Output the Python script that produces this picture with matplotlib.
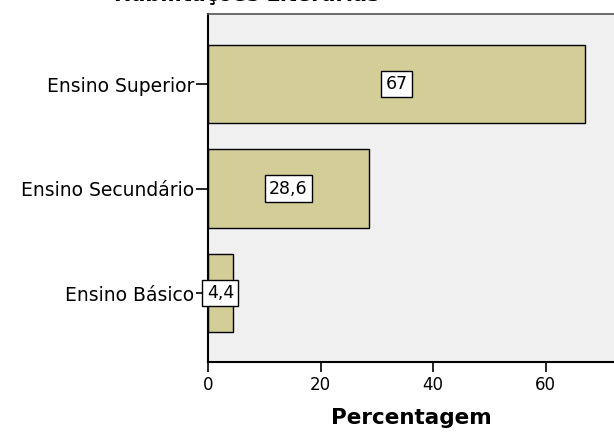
import matplotlib.pyplot as plt

# Habilitações literárias (percentagem)
categorias = ['Ensino Superior', 'Ensino Secundário', 'Ensino Básico']
percentagens = [67, 28.6, 4.4]
xticks = [0, 20, 40, 60]

plt.rcParams['font.family'] = ['DejaVu Sans']

fig = plt.figure(figsize=(6.14, 4.44), dpi=100)
ax = fig.add_axes([208 / 614, 82 / 444, 406 / 614, 348 / 444])
ax.set_facecolor('#f0f0f0')

pos = list(range(len(categorias)))
ax.barh(pos, percentagens, height=0.75, color='#d3ce97',
        edgecolor='black', linewidth=1.0, zorder=2)

for y, v in zip(pos, percentagens):
    txt = f'{v:g}'.replace('.', ',')
    ax.text(v / 2, y, txt, ha='center', va='center', fontsize=12.5, zorder=3,
            bbox=dict(boxstyle='square,pad=0.25', facecolor='white',
                      edgecolor='black', linewidth=1.0))

ax.set_yticks(pos)
ax.set_yticklabels(categorias, fontsize=13.5)
ax.set_ylim(2.66, -0.67)
ax.set_xlim(0, 72.1)
ax.set_xticks(xticks)
ax.tick_params(axis='x', labelsize=12, length=7, width=1.2, pad=3)
ax.tick_params(axis='y', length=9, width=1.2, pad=1)

for s in ['left', 'bottom']:
    ax.spines[s].set_linewidth(1.5)
    ax.spines[s].set_color('black')
ax.spines['top'].set_color('#555555')
ax.spines['top'].set_linewidth(1.2)
ax.spines['right'].set_visible(False)

ax.set_xlabel('Percentagem', fontsize=15.5, fontweight='bold', labelpad=10)
# titulo parcialmente cortado no topo da figura
fig.text(247 / 614, 1 - 1 / 444, 'Habilitações Literárias', ha='center',
         va='baseline', fontsize=15, fontweight='bold')

fig.savefig('out.png', dpi=100)
